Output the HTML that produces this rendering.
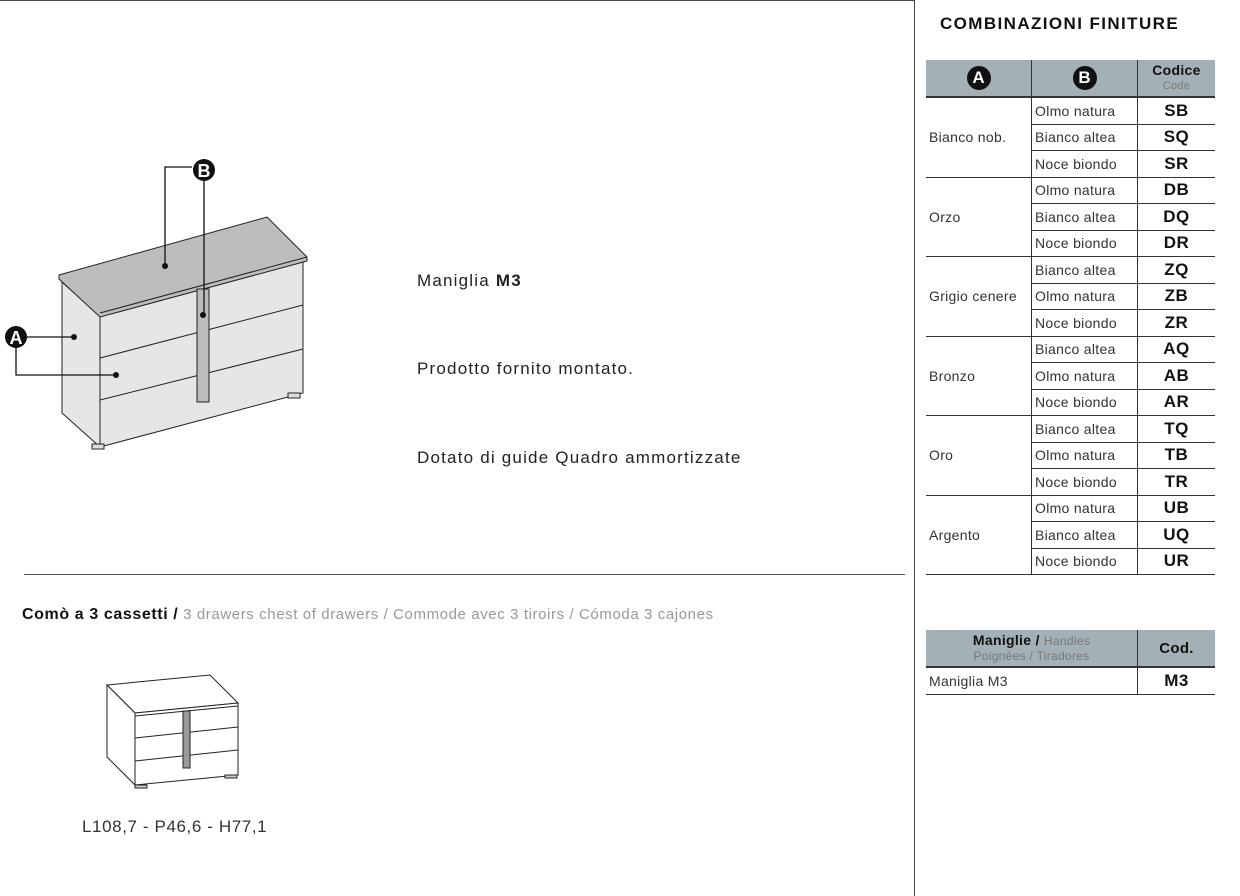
<!DOCTYPE html>
<html><head><meta charset="utf-8"><style>
body{margin:0;width:1240px;height:896px;background:#fff;font-family:"Liberation Sans",sans-serif;position:relative;overflow:hidden;color:#222}
.a{position:absolute;white-space:nowrap}
table{border-collapse:collapse;position:absolute;font-size:14px;letter-spacing:0.3px;color:#333}
td{padding:0;height:25.5px;border-bottom:1px solid #333}
.h{background:#a3b0b6;}
.c{text-align:center;font-weight:bold;font-size:17px;color:#111;letter-spacing:0.5px}
.circ{display:inline-block;width:24px;height:24px;border-radius:50%;background:#111;color:#fff;font-weight:bold;font-size:17px;line-height:24px;text-align:center;letter-spacing:0}
</style></head><body>
<div class="a" style="left:0;top:0;width:915px;height:1px;background:#444"></div>
<div class="a" style="left:914px;top:0;width:1px;height:896px;background:#444"></div>
<div class="a" style="left:24px;top:574px;width:881px;height:1px;background:#555"></div>

<svg class="a" style="left:0;top:0" width="320" height="460">
<g stroke="#222" stroke-width="1" fill="#e6e6e6">
<polygon points="62,282 100,316 100,447 62,413"/>
<polygon points="100,316 303,262 303,393 100,447"/>
<polygon points="59,275 267,217 307,257 307,261 100,317 59,279" fill="#bdbdbd"/>
<line x1="100" y1="313" x2="307" y2="257"/>
<line x1="100" y1="358" x2="303" y2="305"/>
<line x1="100" y1="400" x2="303" y2="349"/>
<rect x="197" y="289" width="12" height="113" fill="#bcbcbc"/>
<rect x="288" y="393" width="12" height="5" fill="#ddd"/>
<rect x="92" y="444" width="12" height="5" fill="#ddd"/>
</g>
<g stroke="#111" stroke-width="1.3" fill="none">
<polyline points="192,167 165,167 165,266"/>
<line x1="204" y1="180" x2="204" y2="315"/>
<line x1="26" y1="337" x2="74" y2="337"/>
<polyline points="16,347 16,375 116,375"/>
</g>
<g fill="#111"><circle cx="165" cy="266" r="3"/><circle cx="203" cy="315" r="3"/><circle cx="74" cy="337" r="3"/><circle cx="116" cy="375" r="3"/>
<circle cx="204" cy="170" r="11"/><circle cx="16" cy="337" r="11"/></g>
<text x="204" y="177" fill="#fff" font-size="18" font-weight="bold" text-anchor="middle" font-family="Liberation Sans">B</text>
<text x="16" y="344" fill="#fff" font-size="18" font-weight="bold" text-anchor="middle" font-family="Liberation Sans">A</text>
</svg>

<div class="a" style="left:417px;top:271px;font-size:17px;letter-spacing:1.2px">Maniglia <b>M3</b></div>
<div class="a" style="left:417px;top:359px;font-size:17px;letter-spacing:1.2px">Prodotto fornito montato.</div>
<div class="a" style="left:417px;top:448px;font-size:17px;letter-spacing:1.2px">Dotato di guide Quadro ammortizzate</div>

<div class="a" style="left:22px;top:606px;font-size:15px;color:#999;letter-spacing:0.6px"><b style="color:#111;font-size:16px">Comò a 3 cassetti /</b> 3 drawers chest of drawers / Commode avec 3 tiroirs / Cómoda 3 cajones</div>

<svg class="a" style="left:0;top:640px" width="300" height="160">
<g stroke="#222" stroke-width="1" fill="#fff" transform="translate(0,-640)">
<polygon points="107,685 210,675 238,703 135,713"/>
<polygon points="107,685 135,713 135,785 107,757"/>
<polygon points="135,713 238,703 238,775 135,785"/>
<line x1="135" y1="716" x2="238" y2="706"/>
<line x1="135" y1="738" x2="238" y2="727"/>
<line x1="135" y1="761" x2="238" y2="750"/>
<rect x="183" y="711" width="7" height="57" fill="#999"/>
<rect x="135" y="785" width="12" height="3" fill="#ccc"/><rect x="225" y="775" width="12" height="3" fill="#ccc"/>
</g></svg>
<div class="a" style="left:82px;top:817px;font-size:17px;color:#333;letter-spacing:0.6px">L108,7 - P46,6 - H77,1</div>

<div class="a" style="left:940px;top:14px;font-size:17px;font-weight:bold;color:#111;letter-spacing:1.4px">COMBINAZIONI FINITURE</div>

<table style="left:926px;top:60px;width:289px">
<tr class="h" style="height:37px"><td style="width:105px;text-align:center;border-right:1px solid #333;border-bottom:2px solid #333"><span class="circ">A</span></td><td style="width:105px;text-align:center;border-right:1px solid #333;border-bottom:2px solid #333"><span class="circ">B</span></td><td style="text-align:center;line-height:14px;border-bottom:2px solid #333"><b style="font-size:14px;color:#111">Codice</b><br><span style="font-size:11px;color:#777">Code</span></td></tr>
<tr><td rowspan="3" style="border-right:1px solid #333;padding-left:3px">Bianco nob.</td><td style="border-right:1px solid #333;padding-left:3px">Olmo natura</td><td class="c">SB</td></tr>
<tr><td style="border-right:1px solid #333;padding-left:3px">Bianco altea</td><td class="c">SQ</td></tr>
<tr><td style="border-right:1px solid #333;padding-left:3px">Noce biondo</td><td class="c">SR</td></tr>
<tr><td rowspan="3" style="border-right:1px solid #333;padding-left:3px">Orzo</td><td style="border-right:1px solid #333;padding-left:3px">Olmo natura</td><td class="c">DB</td></tr>
<tr><td style="border-right:1px solid #333;padding-left:3px">Bianco altea</td><td class="c">DQ</td></tr>
<tr><td style="border-right:1px solid #333;padding-left:3px">Noce biondo</td><td class="c">DR</td></tr>
<tr><td rowspan="3" style="border-right:1px solid #333;padding-left:3px">Grigio cenere</td><td style="border-right:1px solid #333;padding-left:3px">Bianco altea</td><td class="c">ZQ</td></tr>
<tr><td style="border-right:1px solid #333;padding-left:3px">Olmo natura</td><td class="c">ZB</td></tr>
<tr><td style="border-right:1px solid #333;padding-left:3px">Noce biondo</td><td class="c">ZR</td></tr>
<tr><td rowspan="3" style="border-right:1px solid #333;padding-left:3px">Bronzo</td><td style="border-right:1px solid #333;padding-left:3px">Bianco altea</td><td class="c">AQ</td></tr>
<tr><td style="border-right:1px solid #333;padding-left:3px">Olmo natura</td><td class="c">AB</td></tr>
<tr><td style="border-right:1px solid #333;padding-left:3px">Noce biondo</td><td class="c">AR</td></tr>
<tr><td rowspan="3" style="border-right:1px solid #333;padding-left:3px">Oro</td><td style="border-right:1px solid #333;padding-left:3px">Bianco altea</td><td class="c">TQ</td></tr>
<tr><td style="border-right:1px solid #333;padding-left:3px">Olmo natura</td><td class="c">TB</td></tr>
<tr><td style="border-right:1px solid #333;padding-left:3px">Noce biondo</td><td class="c">TR</td></tr>
<tr><td rowspan="3" style="border-right:1px solid #333;padding-left:3px">Argento</td><td style="border-right:1px solid #333;padding-left:3px">Olmo natura</td><td class="c">UB</td></tr>
<tr><td style="border-right:1px solid #333;padding-left:3px">Bianco altea</td><td class="c">UQ</td></tr>
<tr><td style="border-right:1px solid #333;padding-left:3px">Noce biondo</td><td class="c">UR</td></tr>
</table>

<table style="left:926px;top:630px;width:289px">
<tr class="h" style="height:37px"><td style="width:211px;text-align:center;line-height:14px;border-right:1px solid #333;border-bottom:2px solid #333;letter-spacing:0.3px"><b style="font-size:14px;color:#111">Maniglie /</b> <span style="font-size:12px;color:#777">Handles<br>Poignées / Tiradores</span></td><td style="text-align:center;font-weight:bold;font-size:15px;color:#111;border-bottom:2px solid #333">Cod.</td></tr>
<tr><td style="border-right:1px solid #333;padding-left:3px">Maniglia M3</td><td class="c">M3</td></tr>
</table>
</body></html>
